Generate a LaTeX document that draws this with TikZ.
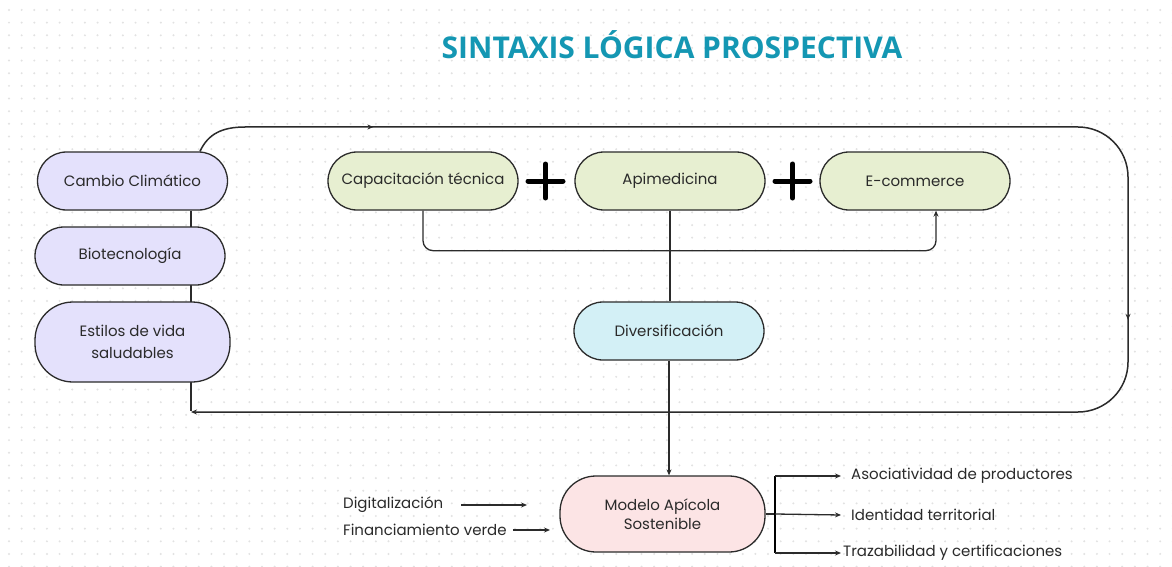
\documentclass[tikz,border=0pt]{standalone}
\usepackage{fontspec}
\setmainfont{Poppins}
\newfontfamily\titlefont{Open Sans}
\usetikzlibrary{arrows.meta,backgrounds,decorations.markings,calc}

\definecolor{edge}{HTML}{2B2B2B}
\definecolor{ink}{HTML}{2A2A2A}
\definecolor{dotc}{HTML}{E2E2E2}
\definecolor{lav}{HTML}{E4E1FC}
\definecolor{sage}{HTML}{E7EFD1}
\definecolor{sky}{HTML}{D3F0F6}
\definecolor{rose}{HTML}{FCE4E5}
\definecolor{teal}{HTML}{1497B3}

\begin{document}
\begin{tikzpicture}[x=1pt,y=-1pt,
  box/.style={draw=edge,line width=1.3pt,text=ink,align=center,
    font=\fontsize{15}{22}\selectfont,
    minimum width=190pt,minimum height=58pt,rounded corners=29pt,inner sep=0pt},
  lbl/.style={text=ink,font=\fontsize{15}{16}\selectfont,inner sep=0pt,anchor=west},
  tip/.style={-{Stealth[length=6pt,width=5pt]}},
  wire/.style={draw=edge,line width=1.3pt},
  plus/.style={line width=5pt,line cap=round,draw=black}]

\useasboundingbox (0,0) rectangle (1172,567);

% canvas and dotted grid
\begin{pgfonlayer}{background}
  \fill[white] (0,0) rectangle (1172,567);
  \foreach \i in {0,...,92}
    \foreach \j in {0,...,44}
      \fill[dotc] (9+\i*12.65,10+\j*12.65) circle (1.1);
\end{pgfonlayer}

% title
\node[text=teal,font=\titlefont\bfseries\fontsize{30}{34}\selectfont] (title) at (672,45) {SINTAXIS LÓGICA PROSPECTIVA};

% drivers (left column)
\node[box,fill=lav] (cambio) at (132.5,181) {Cambio Climático};
\node[box,fill=lav] (biotec) at (130,256) {Biotecnología};
\node[box,fill=lav,minimum width=195pt,minimum height=80pt,rounded corners=38pt] (estilos) at (132.5,342) {Estilos de vida\\saludables};

% strategic lines
\node[box,fill=sage] (cap) at (423,181) {Capacitación técnica};
\node[box,fill=sage] (apim) at (670,181) {Apimedicina};
\node[box,fill=sage] (ecom) at (915,181) {E-commerce};
\node[box,fill=sky] (divers) at (669,331) {Diversificación};
\node[box,fill=rose,minimum width=205pt,minimum height=76pt,rounded corners=36pt,
      font=\fontsize{15}{19}\selectfont] (modelo) at (662.5,514) {Modelo Apícola\\Sostenible};

% plus signs between the strategic lines
\draw[plus] (528,181) -- (563,181) (545.5,164) -- (545.5,198);
\draw[plus] (775,181) -- (810,181) (792.5,164) -- (792.5,198);

% side inputs and outcomes
\node[lbl] (dig) at (343,505) {Digitalización};
\node[lbl] (fin) at (343,530) {Financiamiento verde};
\node[lbl] (asoc) at (851,476) {Asociatividad de productores};
\node[lbl] (ident) at (851,515) {Identidad territorial};
\node[lbl] (traz) at (843,553) {Trazabilidad y certificaciones};

\coordinate (loopend) at (191,412);
\coordinate (digend) at (527,505);
\coordinate (finend) at (550,530);
\coordinate (br) at (775,514);
\coordinate (brT) at (775,476);
\coordinate (brB) at (775,553);

\begin{pgfonlayer}{background}
  % feedback loop around the whole system
  \draw[wire,line width=1.5pt,tip,
        postaction={decorate},
        decoration={markings,
          mark=at position 183pt with {\arrow{Stealth[length=6pt,width=5pt]}},
          mark=at position 1109pt with {\arrow{Stealth[length=6pt,width=5pt]}}}]
    ([xshift=67.5pt]cambio.north) .. controls (208,134) and (222,127) .. (245,127)
    [rounded corners=50pt] -- (1128,127) -- (1128,412) -- (loopend);
  % spine joining the drivers
  \draw[wire] ([xshift=58.5pt]cambio.south) -- ([yshift=0.7pt]loopend);
  % capacitación feeds e-commerce
  \draw[wire,tip,rounded corners=10pt] (cap.south) |- ($(ecom.south)+(21,40)$) -- ([xshift=21pt]ecom.south);
  % apimedicina to diversificación, then into the model
  \draw[wire] (apim.south) -- (apim.south |- divers.north);
  \draw[wire,tip] (divers.south) -- (divers.south |- modelo.north);
\end{pgfonlayer}

% inputs into the model
\draw[wire,tip] ([xshift=18pt]dig.east) -- (digend);
\draw[wire,tip] ([xshift=6pt]fin.east) -- (finend);

% outcome bracket
\draw[wire] (modelo.east) -- (br);
\draw[draw=black,line width=2pt] (brT) -- (brB);
\draw[wire,tip] (brT) -- ([xshift=-10pt]asoc.west);
\draw[wire,tip] (br) -- ([xshift=-10pt]ident.west);
\draw[wire,tip] (brB) -- ([xshift=-2pt]traz.west);
\end{tikzpicture}
\end{document}
